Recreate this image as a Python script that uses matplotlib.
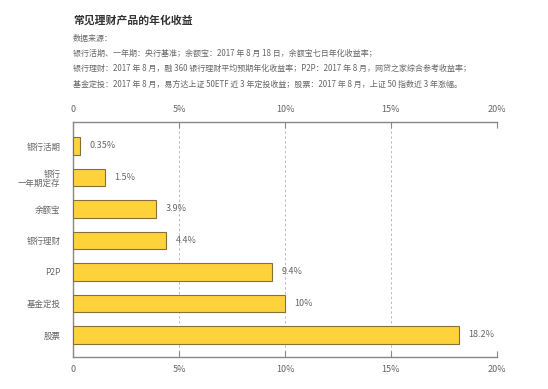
import matplotlib
matplotlib.use("Agg")
import matplotlib.pyplot as plt

plt.rcParams['font.family'] = ['Noto Sans CJK SC', 'DejaVu Sans']

categories = ['银行活期', '银行\n一年期定存', '余额宝', '银行理财', 'P2P', '基金定投', '股票']
values = [0.35, 1.5, 3.9, 4.4, 9.4, 10, 18.2]
value_labels = ['0.35%', '1.5%', '3.9%', '4.4%', '9.4%', '10%', '18.2%']
xticks = [0, 5, 10, 15, 20]
xtick_labels = ['0', '5%', '10%', '15%', '20%']

title = '常见理财产品的年化收益'
source_lines = [
    '数据来源：',
    '银行活期、一年期：央行基准；余额宝：2017 年 8 月 18 日，余额宝七日年化收益率；',
    '银行理财：2017 年 8 月，融 360 银行理财平均预期年化收益率；P2P：2017 年 8 月，网贷之家综合参考收益率；',
    '基金定投：2017 年 8 月，易方达上证 50ETF 近 3 年定投收益；股票：2017 年 8 月，上证 50 指数近 3 年涨幅。',
]

grey = '#666666'
fig = plt.figure(figsize=(5.48, 3.89), dpi=100)
ax = fig.add_axes([0.1332, 0.0823, 0.7737, 0.604])

y = list(range(len(categories)))
ax.barh(y, values, height=0.55, color='#FDD23A', edgecolor='#85703A', linewidth=0.8, zorder=3)
for yi, v, lab in zip(y, values, value_labels):
    ax.text(v + 0.45, yi, lab, va='center', ha='left', fontsize=6.5, color=grey)

ax.set_xlim(0, 20)
ax.set_ylim(6.7, -0.76)
ax.set_yticks(y)
ax.set_yticklabels(categories, fontsize=6.1, color=grey, linespacing=1.1)
ax.tick_params(axis='y', length=0, pad=9)

ax.set_xticks(xticks)
ax.set_xticklabels(xtick_labels)
ax.tick_params(axis='x', direction='in', length=4, color='#888888', labelsize=6.5,
               labelcolor=grey, top=True, labeltop=True, bottom=True, labelbottom=True, pad=6)

for x in xticks[1:]:
    ax.axvline(x, color='#bbbbbb', linestyle=(0, (2.5, 2.5)), linewidth=0.7, zorder=1)

for side in ['top', 'bottom', 'left']:
    ax.spines[side].set_color('#888888')
    ax.spines[side].set_linewidth(1.0)
ax.spines['right'].set_visible(False)

fig.text(73 / 548, 1 - 20 / 389, title, fontsize=7.8, fontweight='bold', color='#333333', va='center')
for i, line in enumerate(source_lines):
    fig.text(73 / 548, 1 - (38 + i * 15.3) / 389, line, fontsize=5.75, color=grey, va='center')

fig.savefig('out.png', dpi=100)
